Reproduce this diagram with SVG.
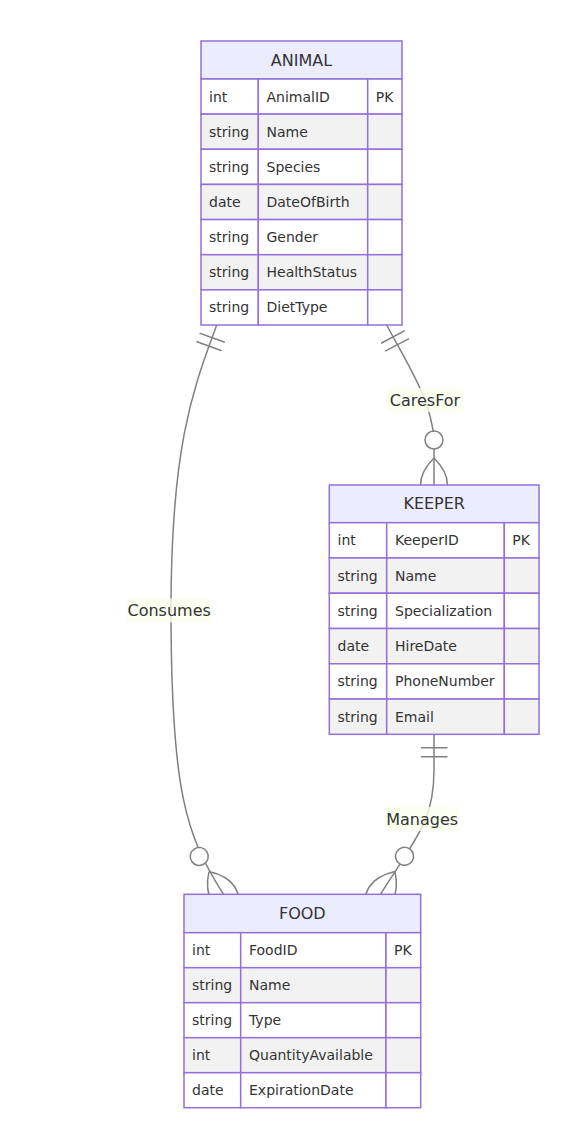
<svg xmlns="http://www.w3.org/2000/svg" width="581" height="1139" viewBox="0 0 581 1139">
<style>
.h{fill:#ECECFF;stroke:#9370DB;stroke-width:1.5}
.w{fill:#ffffff;stroke:#9370DB;stroke-width:1.5}
.g{fill:#f2f2f2;stroke:#9370DB;stroke-width:1.5}
.t{font-family:"DejaVu Sans",sans-serif;font-size:16px;fill:#333;text-anchor:middle;dominant-baseline:central}
.a{font-family:"DejaVu Sans",sans-serif;font-size:14px;fill:#333;dominant-baseline:central}
.rel{fill:none;stroke:#808080;stroke-width:1.5}
.lb{fill:#f9ffec;opacity:0.8}
.lt{font-family:"DejaVu Sans",sans-serif;font-size:16px;fill:#333;text-anchor:middle;dominant-baseline:central}
</style>
<defs>
<marker id="oneStart" refX="0" refY="9" markerWidth="18" markerHeight="18" orient="auto">
<path d="M9,0 L9,18 M15,0 L15,18" stroke="#808080" fill="none"/>
</marker>
<marker id="zomEnd" refX="39" refY="18" markerWidth="57" markerHeight="36" orient="auto">
<circle cx="9" cy="18" r="6" stroke="#808080" fill="#ffffff"/>
<path d="M21,18 Q39,0 57,18 Q39,36 21,18" stroke="#808080" fill="none"/>
</marker>
</defs>
<rect width="581" height="1139" fill="#ffffff"/>
<g id="connectors">
<path id="e-consumes" class="rel" d="M216.7,325 C195,385 171,440 171,610 C171,790 185.7,835.3 223.5,894.3" marker-start="url(#oneStart)" marker-end="url(#zomEnd)"/>
<path id="e-caresfor" class="rel" d="M386.7,325 C405,360 432,400 434,440 L434,485" marker-start="url(#oneStart)" marker-end="url(#zomEnd)"/>
<path id="e-manages" class="rel" d="M434,734.3 L434,770 C434,820 418,835 380.5,894.3" marker-start="url(#oneStart)" marker-end="url(#zomEnd)"/>
<rect class="lb" x="126.7" y="598.5" width="85" height="24"/>
<text class="lt" x="169.2" y="610.5">Consumes</text>
<rect class="lb" x="386.7" y="388" width="76.5" height="24"/>
<text class="lt" x="425" y="400">CaresFor</text>
<rect class="lb" x="386" y="807" width="72.3" height="24"/>
<text class="lt" x="422.2" y="819">Manages</text>
</g>
<g id="ANIMAL">
<rect class="h" x="201" y="41" width="201" height="38"/>
<text class="t" x="301.5" y="60">ANIMAL</text>
<rect class="w" x="201" y="79" width="57.3" height="35.14"/><rect class="w" x="258.3" y="79" width="109.4" height="35.14"/><rect class="w" x="367.7" y="79" width="34.3" height="35.14"/>
<rect class="g" x="201" y="114.14" width="57.3" height="35.14"/><rect class="g" x="258.3" y="114.14" width="109.4" height="35.14"/><rect class="g" x="367.7" y="114.14" width="34.3" height="35.14"/>
<rect class="w" x="201" y="149.28" width="57.3" height="35.14"/><rect class="w" x="258.3" y="149.28" width="109.4" height="35.14"/><rect class="w" x="367.7" y="149.28" width="34.3" height="35.14"/>
<rect class="g" x="201" y="184.42" width="57.3" height="35.14"/><rect class="g" x="258.3" y="184.42" width="109.4" height="35.14"/><rect class="g" x="367.7" y="184.42" width="34.3" height="35.14"/>
<rect class="w" x="201" y="219.56" width="57.3" height="35.14"/><rect class="w" x="258.3" y="219.56" width="109.4" height="35.14"/><rect class="w" x="367.7" y="219.56" width="34.3" height="35.14"/>
<rect class="g" x="201" y="254.7" width="57.3" height="35.14"/><rect class="g" x="258.3" y="254.7" width="109.4" height="35.14"/><rect class="g" x="367.7" y="254.7" width="34.3" height="35.14"/>
<rect class="w" x="201" y="289.84" width="57.3" height="35.16"/><rect class="w" x="258.3" y="289.84" width="109.4" height="35.16"/><rect class="w" x="367.7" y="289.84" width="34.3" height="35.16"/>
<text class="a" x="209" y="96.6">int</text><text class="a" x="266.5" y="96.6">AnimalID</text><text class="a" x="375.7" y="96.6">PK</text>
<text class="a" x="209" y="131.7">string</text><text class="a" x="266.5" y="131.7">Name</text>
<text class="a" x="209" y="166.9">string</text><text class="a" x="266.5" y="166.9">Species</text>
<text class="a" x="209" y="202">date</text><text class="a" x="266.5" y="202">DateOfBirth</text>
<text class="a" x="209" y="237.1">string</text><text class="a" x="266.5" y="237.1">Gender</text>
<text class="a" x="209" y="272.3">string</text><text class="a" x="266.5" y="272.3">HealthStatus</text>
<text class="a" x="209" y="307.4">string</text><text class="a" x="266.5" y="307.4">DietType</text>
</g>
<g id="KEEPER">
<rect class="h" x="329.3" y="485" width="209.7" height="37.7"/>
<text class="t" x="434.2" y="503.8">KEEPER</text>
<rect class="w" x="329.3" y="522.7" width="57.4" height="35.27"/><rect class="w" x="386.7" y="522.7" width="117.6" height="35.27"/><rect class="w" x="504.3" y="522.7" width="34.7" height="35.27"/>
<rect class="g" x="329.3" y="557.97" width="57.4" height="35.27"/><rect class="g" x="386.7" y="557.97" width="117.6" height="35.27"/><rect class="g" x="504.3" y="557.97" width="34.7" height="35.27"/>
<rect class="w" x="329.3" y="593.24" width="57.4" height="35.27"/><rect class="w" x="386.7" y="593.24" width="117.6" height="35.27"/><rect class="w" x="504.3" y="593.24" width="34.7" height="35.27"/>
<rect class="g" x="329.3" y="628.51" width="57.4" height="35.27"/><rect class="g" x="386.7" y="628.51" width="117.6" height="35.27"/><rect class="g" x="504.3" y="628.51" width="34.7" height="35.27"/>
<rect class="w" x="329.3" y="663.78" width="57.4" height="35.27"/><rect class="w" x="386.7" y="663.78" width="117.6" height="35.27"/><rect class="w" x="504.3" y="663.78" width="34.7" height="35.27"/>
<rect class="g" x="329.3" y="699.05" width="57.4" height="35.27"/><rect class="g" x="386.7" y="699.05" width="117.6" height="35.27"/><rect class="g" x="504.3" y="699.05" width="34.7" height="35.27"/>
<text class="a" x="337.5" y="540.3">int</text><text class="a" x="395" y="540.3">KeeperID</text><text class="a" x="512.3" y="540.3">PK</text>
<text class="a" x="337.5" y="575.6">string</text><text class="a" x="395" y="575.6">Name</text>
<text class="a" x="337.5" y="610.9">string</text><text class="a" x="395" y="610.9">Specialization</text>
<text class="a" x="337.5" y="646.1">date</text><text class="a" x="395" y="646.1">HireDate</text>
<text class="a" x="337.5" y="681.4">string</text><text class="a" x="395" y="681.4">PhoneNumber</text>
<text class="a" x="337.5" y="716.7">string</text><text class="a" x="395" y="716.7">Email</text>
</g>
<g id="FOOD">
<rect class="h" x="184" y="894.3" width="236.7" height="38.4"/>
<text class="t" x="302.3" y="913.5">FOOD</text>
<rect class="w" x="184" y="932.7" width="56.7" height="35"/><rect class="w" x="240.7" y="932.7" width="145.3" height="35"/><rect class="w" x="386" y="932.7" width="34.7" height="35"/>
<rect class="g" x="184" y="967.7" width="56.7" height="35"/><rect class="g" x="240.7" y="967.7" width="145.3" height="35"/><rect class="g" x="386" y="967.7" width="34.7" height="35"/>
<rect class="w" x="184" y="1002.7" width="56.7" height="35"/><rect class="w" x="240.7" y="1002.7" width="145.3" height="35"/><rect class="w" x="386" y="1002.7" width="34.7" height="35"/>
<rect class="g" x="184" y="1037.7" width="56.7" height="35"/><rect class="g" x="240.7" y="1037.7" width="145.3" height="35"/><rect class="g" x="386" y="1037.7" width="34.7" height="35"/>
<rect class="w" x="184" y="1072.7" width="56.7" height="35"/><rect class="w" x="240.7" y="1072.7" width="145.3" height="35"/><rect class="w" x="386" y="1072.7" width="34.7" height="35"/>
<text class="a" x="192" y="950.2">int</text><text class="a" x="249" y="950.2">FoodID</text><text class="a" x="394" y="950.2">PK</text>
<text class="a" x="192" y="985.2">string</text><text class="a" x="249" y="985.2">Name</text>
<text class="a" x="192" y="1020.2">string</text><text class="a" x="249" y="1020.2">Type</text>
<text class="a" x="192" y="1055.2">int</text><text class="a" x="249" y="1055.2">QuantityAvailable</text>
<text class="a" x="192" y="1090.2">date</text><text class="a" x="249" y="1090.2">ExpirationDate</text>
</g>
</svg>
